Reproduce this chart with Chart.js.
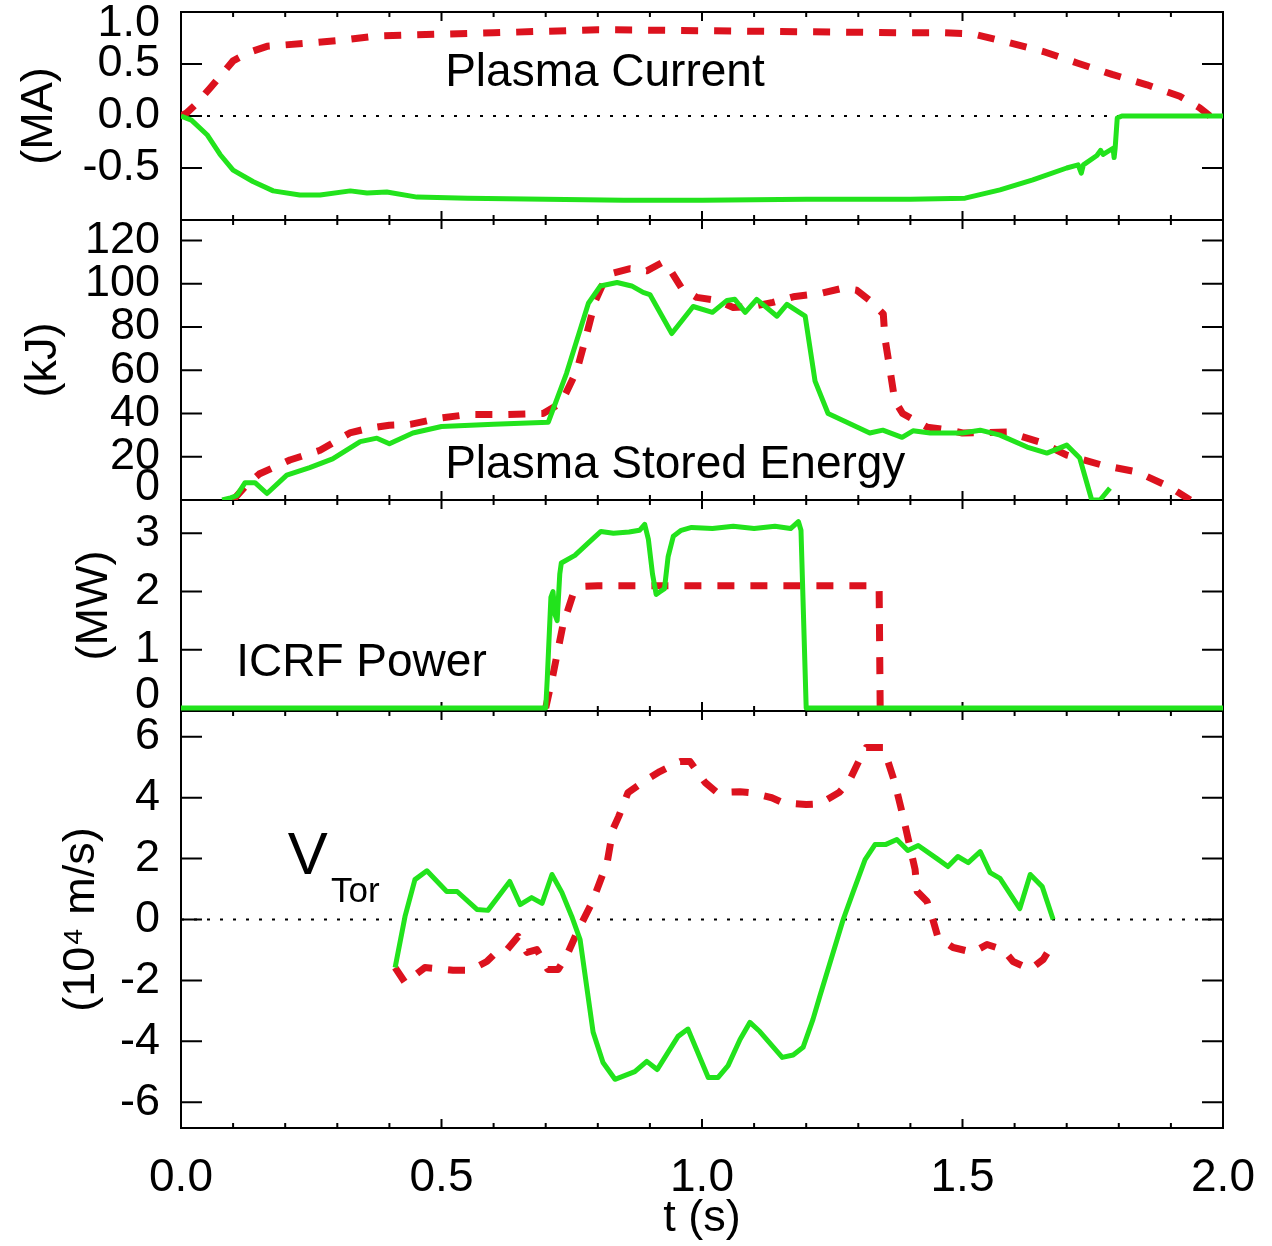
<!DOCTYPE html>
<html>
<head>
<meta charset="utf-8">
<script src="https://cdn.jsdelivr.net/npm/chart.js@4.4.1/dist/chart.umd.min.js"></script>
<style>
  html, body { margin: 0; padding: 0; background: #fff; }
  canvas { display: block; }
</style>
</head>
<body>
<canvas id="shots" width="1272" height="1246"></canvas>
<script>
// Four stacked panels on one shared time axis (0 .. 2 s)
const FONT = '"Liberation Sans", Arial, Helvetica, sans-serif';
const GREEN = '#22e31c';
const RED = '#dc121e';

// time axis
const timeTicks = [0, 0.5, 1.0, 1.5, 2.0];
const timeMinorTicks = [0.1, 0.2, 0.3, 0.4, 0.6, 0.7, 0.8, 0.9, 1.1, 1.2, 1.3, 1.4, 1.6, 1.7, 1.8, 1.9];

// plasma current (MA)
const ipTicks = [-0.5, 0, 0.5, 1.0];
const ipGreenT = [0, 0.02, 0.05, 0.075, 0.1, 0.138, 0.177, 0.228, 0.267, 0.325, 0.357, 0.395, 0.453, 0.55, 0.7, 0.85, 1.0, 1.2, 1.4, 1.505, 1.572, 1.635, 1.70, 1.722, 1.728, 1.732, 1.758, 1.765, 1.77, 1.789, 1.791, 1.793, 1.797, 1.806, 2.0];
const ipGreenV = [0, -0.04, -0.18, -0.37, -0.52, -0.63, -0.72, -0.76, -0.76, -0.72, -0.74, -0.73, -0.78, -0.79, -0.80, -0.81, -0.81, -0.80, -0.80, -0.79, -0.71, -0.615, -0.50, -0.47, -0.55, -0.47, -0.38, -0.33, -0.37, -0.31, -0.40, -0.31, -0.02, 0, 0];
const ipRedT = [0, 0.011, 0.03, 0.056, 0.1, 0.13, 0.165, 0.242, 0.311, 0.376, 0.44, 0.6, 0.8, 1.0, 1.2, 1.4, 1.463, 1.52, 1.585, 1.655, 1.72, 1.787, 1.854, 1.917, 1.955, 1.975];
const ipRedV = [0, 0.03, 0.12, 0.27, 0.53, 0.61, 0.67, 0.70, 0.73, 0.77, 0.78, 0.80, 0.83, 0.82, 0.81, 0.80, 0.80, 0.79, 0.71, 0.62, 0.51, 0.40, 0.30, 0.19, 0.08, 0];

// plasma stored energy (kJ)
const wTicks = [0, 20, 40, 60, 80, 100, 120];
const wGreenT = [0.079, 0.095, 0.107, 0.123, 0.142, 0.165, 0.203, 0.247, 0.291, 0.344, 0.376, 0.40, 0.445, 0.5, 0.6, 0.705, 0.74, 0.782, 0.805, 0.837, 0.865, 0.887, 0.9, 0.942, 0.983, 1.02, 1.048, 1.063, 1.083, 1.105, 1.144, 1.163, 1.198, 1.217, 1.242, 1.322, 1.347, 1.384, 1.405, 1.438, 1.5, 1.534, 1.572, 1.624, 1.662, 1.70, 1.725, 1.748, 1.764, 1.783];
const wGreenV = [0, 1, 2, 8, 8, 3, 11.5, 15, 19, 27, 28.6, 26, 31, 34, 35, 36, 58.6, 91, 99, 100.6, 99, 96, 95, 77, 89.5, 86.8, 92.3, 92.8, 86.8, 92.8, 85, 90.5, 85, 55, 40, 31, 32.3, 29, 32, 31, 31, 32.3, 30, 24.5, 21.7, 25.4, 19.4, 0, 0, 5.5];
const wRedT = [0.1, 0.126, 0.15, 0.209, 0.267, 0.324, 0.357, 0.40, 0.44, 0.5, 0.55, 0.612, 0.695, 0.73, 0.76, 0.779, 0.795, 0.81, 0.83, 0.862, 0.894, 0.925, 0.94, 0.961, 0.99, 1.029, 1.06, 1.098, 1.136, 1.175, 1.227, 1.271, 1.297, 1.322, 1.348, 1.351, 1.361, 1.37, 1.385, 1.432, 1.476, 1.50, 1.585, 1.649, 1.70, 1.77, 1.835, 1.898, 1.937];
const wRedV = [0, 7, 12, 18.5, 23, 31, 33, 34.6, 35, 38, 39.5, 39.5, 40, 45, 60, 77, 92, 100, 105, 107, 106, 110, 106, 98, 93.7, 92.3, 89, 89.5, 91.4, 94, 95.5, 98, 97, 92.3, 86, 75, 60, 46, 40, 33.7, 32.3, 31, 31.4, 26.8, 20.8, 16, 13, 6, 0];

// ICRF power (MW); the red trace's flat zero parts lie hidden under the green one
const pTicks = [0, 1, 2, 3];
const pGreenT = [0, 0.70, 0.703, 0.71, 0.714, 0.718, 0.722, 0.727, 0.73, 0.756, 0.785, 0.806, 0.83, 0.86, 0.88, 0.89, 0.897, 0.905, 0.912, 0.92, 0.928, 0.935, 0.945, 0.96, 0.98, 1.02, 1.06, 1.10, 1.14, 1.17, 1.185, 1.19, 1.2, 2.0];
const pGreenV = [0, 0, 0.5, 1.9, 2.0, 1.6, 1.5, 2.3, 2.49, 2.62, 2.86, 3.03, 3.0, 3.02, 3.05, 3.15, 2.9, 2.3, 1.95, 2.0, 2.05, 2.6, 2.95, 3.05, 3.1, 3.08, 3.12, 3.08, 3.12, 3.08, 3.2, 3.05, 0, 0];
const pRedT = [0.70, 0.714, 0.733, 0.752, 0.774, 0.8, 1.0, 1.2, 1.33, 1.34, 1.342];
const pRedV = [0, 0.57, 1.42, 1.94, 2.09, 2.1, 2.1, 2.1, 2.1, 2.05, 0];

// toroidal velocity (10^4 m/s)
const vTicks = [-6, -4, -2, 0, 2, 4, 6];
const vGreenT = [0.411, 0.43, 0.449, 0.472, 0.51, 0.53, 0.568, 0.589, 0.631, 0.651, 0.673, 0.693, 0.712, 0.731, 0.75, 0.766, 0.791, 0.81, 0.833, 0.871, 0.894, 0.914, 0.954, 0.973, 1.012, 1.031, 1.05, 1.073, 1.092, 1.111, 1.154, 1.175, 1.194, 1.213, 1.226, 1.271, 1.29, 1.313, 1.332, 1.352, 1.374, 1.395, 1.415, 1.451, 1.472, 1.491, 1.511, 1.534, 1.553, 1.572, 1.61, 1.63, 1.653, 1.674];
const vGreenV = [-1.58, 0.1, 1.31, 1.6, 0.92, 0.92, 0.33, 0.3, 1.25, 0.49, 0.72, 0.53, 1.48, 0.89, 0.1, -0.66, -3.7, -4.7, -5.25, -5.0, -4.66, -4.93, -3.84, -3.6, -5.19, -5.19, -4.8, -3.94, -3.38, -3.68, -4.53, -4.45, -4.2, -3.28, -2.53, 0, 0.9, 1.97, 2.46, 2.46, 2.63, 2.27, 2.43, 2.0, 1.74, 2.07, 1.87, 2.23, 1.54, 1.35, 0.36, 1.48, 1.08, 0];
const vRedT = [0.411, 0.43, 0.468, 0.522, 0.555, 0.587, 0.607, 0.626, 0.647, 0.664, 0.683, 0.704, 0.724, 0.74, 0.76, 0.789, 0.818, 0.829, 0.84, 0.858, 0.894, 0.919, 0.958, 0.977, 1.006, 1.029, 1.073, 1.092, 1.134, 1.155, 1.2, 1.226, 1.263, 1.282, 1.301, 1.315, 1.348, 1.357, 1.37, 1.386, 1.399, 1.409, 1.413, 1.432, 1.443, 1.453, 1.482, 1.52, 1.547, 1.578, 1.597, 1.63, 1.655, 1.674];
const vRedV = [-1.58, -2.07, -1.58, -1.67, -1.67, -1.38, -1.05, -0.99, -0.56, -1.08, -0.99, -1.64, -1.64, -1.2, -0.43, 0.56, 1.87, 2.96, 3.38, 4.17, 4.6, 4.86, 5.19, 5.19, 4.5, 4.17, 4.2, 4.17, 4.0, 3.84, 3.78, 3.8, 4.17, 4.53, 5.2, 5.65, 5.65, 5.19, 4.5, 3.38, 2.4, 1.64, 0.92, 0.59, 0, -0.59, -0.92, -1.08, -0.82, -0.99, -1.38, -1.64, -1.31, -0.79];

// text written inside the panels
const notes = [
  { text: 'Plasma Current', axis: 'yI', t: 0.507, v: 0.29, size: 46 },
  { text: 'Plasma Stored Energy', axis: 'yE', t: 0.507, v: 10.2, size: 46 },
  { text: 'ICRF Power', axis: 'yP', t: 0.106, v: 0.55, size: 46 },
  { text: 'V', axis: 'yV', t: 0.205, v: 1.48, size: 60 },
  { text: 'Tor', axis: 'yV', t: 0.288, v: 0.56, size: 35 }
];

function pts(ts, vs) {
  return ts.map((t, i) => ({ x: t, y: vs[i] }));
}

function trace(ts, vs, axis, dashed) {
  return {
    data: pts(ts, vs),
    yAxisID: axis,
    borderColor: dashed ? RED : GREEN,
    borderWidth: dashed ? 7 : 5,
    borderDash: dashed ? [17, 16] : [],
    borderJoinStyle: 'round',
    pointRadius: 0,
    tension: 0,
    fill: false
  };
}

function zeroLine(axis) {
  return {
    data: pts([0, 2], [0, 0]),
    yAxisID: axis,
    borderColor: '#000',
    borderWidth: 2,
    borderDash: [3, 10],
    pointRadius: 0
  };
}

// edge labels are nudged inside the panel, like the original plot
function yAxis(weight, min, max, tickValues, digits, title, titlePad, edge) {
  return {
    type: 'linear',
    position: 'left',
    stack: 'panels',
    stackWeight: weight,
    min: min,
    max: max,
    grid: { display: false },
    border: { display: false },
    afterBuildTicks: (s) => { s.ticks = tickValues.map((v) => ({ value: v })); },
    afterFit: (s) => { s.width = 181; s.paddingTop = 0; s.paddingBottom = 0; },
    ticks: {
      autoSkip: false,
      padding: 13,
      color: '#000',
      font: (c) => ({ family: FONT, size: 45, lineHeight: c.tick && edge[c.tick.value] ? 24 / 45 : 1.2 }),
      callback: (v) => {
        const s = v.toFixed(digits);
        if (edge[v] === 'down') return ['', s];
        if (edge[v] === 'up') return [s, ''];
        return s;
      }
    },
    title: {
      display: true,
      text: title,
      color: '#000',
      font: { family: FONT, size: 45 },
      padding: { top: titlePad, bottom: 0 }
    }
  };
}

const framePlugin = {
  id: 'frame',
  beforeDatasetsDraw(chart) {
    const { ctx, chartArea } = chart;
    const { left, right } = chartArea;
    const xs = chart.scales.x;
    const panels = [['yI', ipTicks], ['yE', wTicks], ['yP', pTicks], ['yV', vTicks]];
    ctx.save();
    ctx.strokeStyle = '#000';
    ctx.lineWidth = 2;
    panels.forEach(([id, tv]) => {
      const s = chart.scales[id];
      ctx.strokeRect(left, s.top, right - left, s.bottom - s.top);
      ctx.beginPath();
      tv.forEach((v) => {
        const y = s.getPixelForValue(v);
        ctx.moveTo(left, y); ctx.lineTo(left + 21, y);
        ctx.moveTo(right - 21, y); ctx.lineTo(right, y);
      });
      timeTicks.concat(timeMinorTicks).forEach((t) => {
        const len = timeTicks.includes(t) ? 9 : 5;
        const px = xs.getPixelForValue(t);
        ctx.moveTo(px, s.top); ctx.lineTo(px, s.top + len);
        ctx.moveTo(px, s.bottom); ctx.lineTo(px, s.bottom - len);
      });
      ctx.stroke();
    });
    ctx.restore();
  }
};

const notePlugin = {
  id: 'notes',
  afterDatasetsDraw(chart) {
    const { ctx } = chart;
    ctx.save();
    ctx.fillStyle = '#000';
    ctx.textBaseline = 'alphabetic';
    ctx.textAlign = 'left';
    notes.forEach((n) => {
      ctx.font = n.size + 'px ' + FONT;
      ctx.fillText(n.text, chart.scales.x.getPixelForValue(n.t), chart.scales[n.axis].getPixelForValue(n.v));
    });
    ctx.restore();
  }
};

const datasets = [
  trace(ipGreenT, ipGreenV, 'yI', false),
  trace(wGreenT, wGreenV, 'yE', false),
  trace(pGreenT, pGreenV, 'yP', false),
  trace(vGreenT, vGreenV, 'yV', false),
  trace(ipRedT, ipRedV, 'yI', true),
  trace(wRedT, wRedV, 'yE', true),
  trace(pRedT, pRedV, 'yP', true),
  trace(vRedT, vRedV, 'yV', true),
  zeroLine('yI'),
  zeroLine('yV')
];

new Chart(document.getElementById('shots'), {
  type: 'line',
  data: { datasets },
  options: {
    responsive: false,
    animation: false,
    devicePixelRatio: 1,
    layout: { padding: { left: 0, right: 49, top: 12, bottom: 0 } },
    plugins: { legend: { display: false }, tooltip: { enabled: false } },
    scales: {
      x: {
        type: 'linear',
        position: 'bottom',
        min: 0,
        max: 2,
        grid: { display: false },
        border: { display: false },
        afterBuildTicks: (s) => { s.ticks = timeTicks.map((v) => ({ value: v })); },
        afterFit: (s) => { s.height = 118; s.paddingLeft = 0; s.paddingRight = 0; },
        ticks: {
          autoSkip: false,
          maxRotation: 0,
          padding: 15,
          color: '#000',
          font: { family: FONT, size: 46 },
          callback: (v) => v.toFixed(1)
        },
        title: {
          display: true,
          text: 't (s)',
          color: '#000',
          font: { family: FONT, size: 45 },
          padding: { top: 0, bottom: 0 }
        }
      },
      // listed bottom-up: the last stacked axis is placed on top
      yV: yAxis(417, -6.85, 6.85, vTicks, 0, '(10\u2074 m/s)', 55, {}),
      yP: yAxis(211, -0.05, 3.57, pTicks, 0, '(MW)', 68, { 0: 'up' }),
      yE: yAxis(280, 0, 129.5, wTicks, 0, '(kJ)', 17, { 0: 'up' }),
      yI: yAxis(208, -1, 1, ipTicks, 1, '(MA)', 13, { 1: 'down' })
    }
  },
  plugins: [framePlugin, notePlugin]
});
</script>
</body>
</html>
